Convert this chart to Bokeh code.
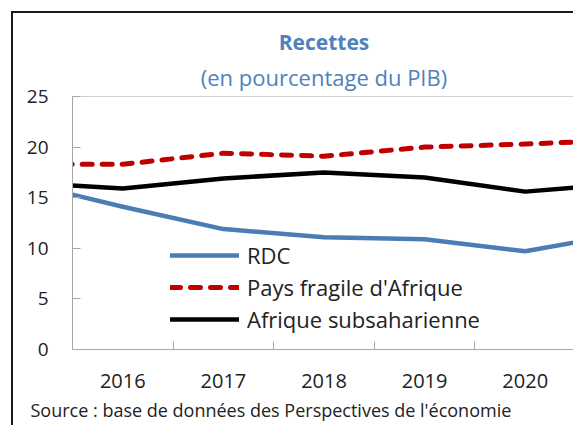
from bokeh.plotting import figure
from bokeh.models import (Range1d, FixedTicker, Span, Title, Legend, LegendItem)
from bokeh.embed import file_html
from bokeh.resources import INLINE

# ---- data ----
years = [2015, 2016, 2017, 2018, 2019, 2020, 2021]
rdc = [16.5, 14.1, 11.9, 11.1, 10.9, 9.7, 11.5]
fragile = [18.3, 18.3, 19.4, 19.1, 20.0, 20.3, 20.7]
ssa = [16.5, 15.9, 16.9, 17.5, 17.0, 15.6, 16.4]
tick_years = [2016, 2017, 2018, 2019, 2020]
boundaries = [2015.5, 2016.5, 2017.5, 2018.5, 2019.5, 2020.5]
y_ticks = [0, 5, 10, 15, 20, 25]
series_labels = ["RDC", "Pays fragile d'Afrique", "Afrique subsaharienne"]
title_text = "Recettes"
subtitle_text = "(en pourcentage du PIB)"
source_text = "Source : base de données des Perspectives de l'économie"

FONT = "Open Sans"
BLUE_LINE = "#4a7db4"
BLUE_TEXT = "#4f81bd"
RED = "#c00000"
AXIS = "#a6a6a6"
TXT = "#222222"

p = figure(width=562, height=414, output_backend="svg", toolbar_location=None,
           x_range=Range1d(2015.5, 2020.5), y_range=Range1d(0, 25),
           min_border_left=59, min_border_top=83, min_border_bottom=78,
           min_border_right=0, title=None)
p.styles = {"border-left": "2px solid #1a1a1a", "border-top": "2px solid #1a1a1a",
            "margin": "11px 0 0 11px"}
p.outline_line_color = None
p.background_fill_color = "white"
p.border_fill_color = "white"
p.grid.visible = False

# axes
xa = p.xaxis[0]
xa.ticker = FixedTicker(ticks=tick_years, minor_ticks=boundaries)
xa.major_tick_in = 0
xa.major_tick_out = 0
xa.minor_tick_in = 8
xa.minor_tick_out = 0
xa.minor_tick_line_color = AXIS
xa.axis_line_color = AXIS
xa.major_label_text_font = FONT
xa.major_label_text_font_size = "20px"
xa.major_label_text_color = TXT
xa.major_label_standoff = 24

ya = p.yaxis[0]
ya.ticker = FixedTicker(ticks=y_ticks)
ya.major_tick_in = 8
ya.major_tick_out = 0
ya.minor_tick_line_color = None
ya.major_tick_line_color = AXIS
ya.axis_line_color = AXIS
ya.major_label_text_font = FONT
ya.major_label_text_font_size = "19px"
ya.major_label_text_color = TXT
ya.major_label_standoff = 24

p.add_layout(Span(location=25, dimension="width", line_color=AXIS, line_width=1))

r1 = p.line(years, rdc, line_color=BLUE_LINE, line_width=4.5, line_join="round", line_cap="round")
r2 = p.line(years, fragile, line_color=RED, line_width=5, line_dash="10 10",
            line_join="round", line_cap="round")
r3 = p.line(years, ssa, line_color="black", line_width=4.5, line_join="round", line_cap="round")

legend = Legend(items=[LegendItem(label=series_labels[0], renderers=[r1]),
                       LegendItem(label=series_labels[1], renderers=[r2]),
                       LegendItem(label=series_labels[2], renderers=[r3])],
                location=(98, 14), padding=0, margin=0, spacing=0,
                glyph_width=69, glyph_height=32, label_height=32, label_standoff=8,
                label_text_font=FONT, label_text_font_size="22px", label_text_color=TXT,
                border_line_color=None, background_fill_alpha=0)
p.add_layout(legend, "center")

p.add_layout(Title(text=subtitle_text, align="center", offset=9, text_font=FONT,
                   text_font_size="22px", text_font_style="normal",
                   text_color=BLUE_TEXT, standoff=9), "above")
p.add_layout(Title(text=title_text, align="center", offset=9, text_font=FONT,
                   text_font_size="21px", text_font_style="bold",
                   text_color=BLUE_TEXT, standoff=0), "above")
p.add_layout(Title(text=source_text, align="left", offset=-42, text_font=FONT,
                   text_font_size="18px", text_font_style="normal",
                   text_color=TXT, standoff=10), "below")

open("out.html", "w").write(file_html(p, INLINE))
